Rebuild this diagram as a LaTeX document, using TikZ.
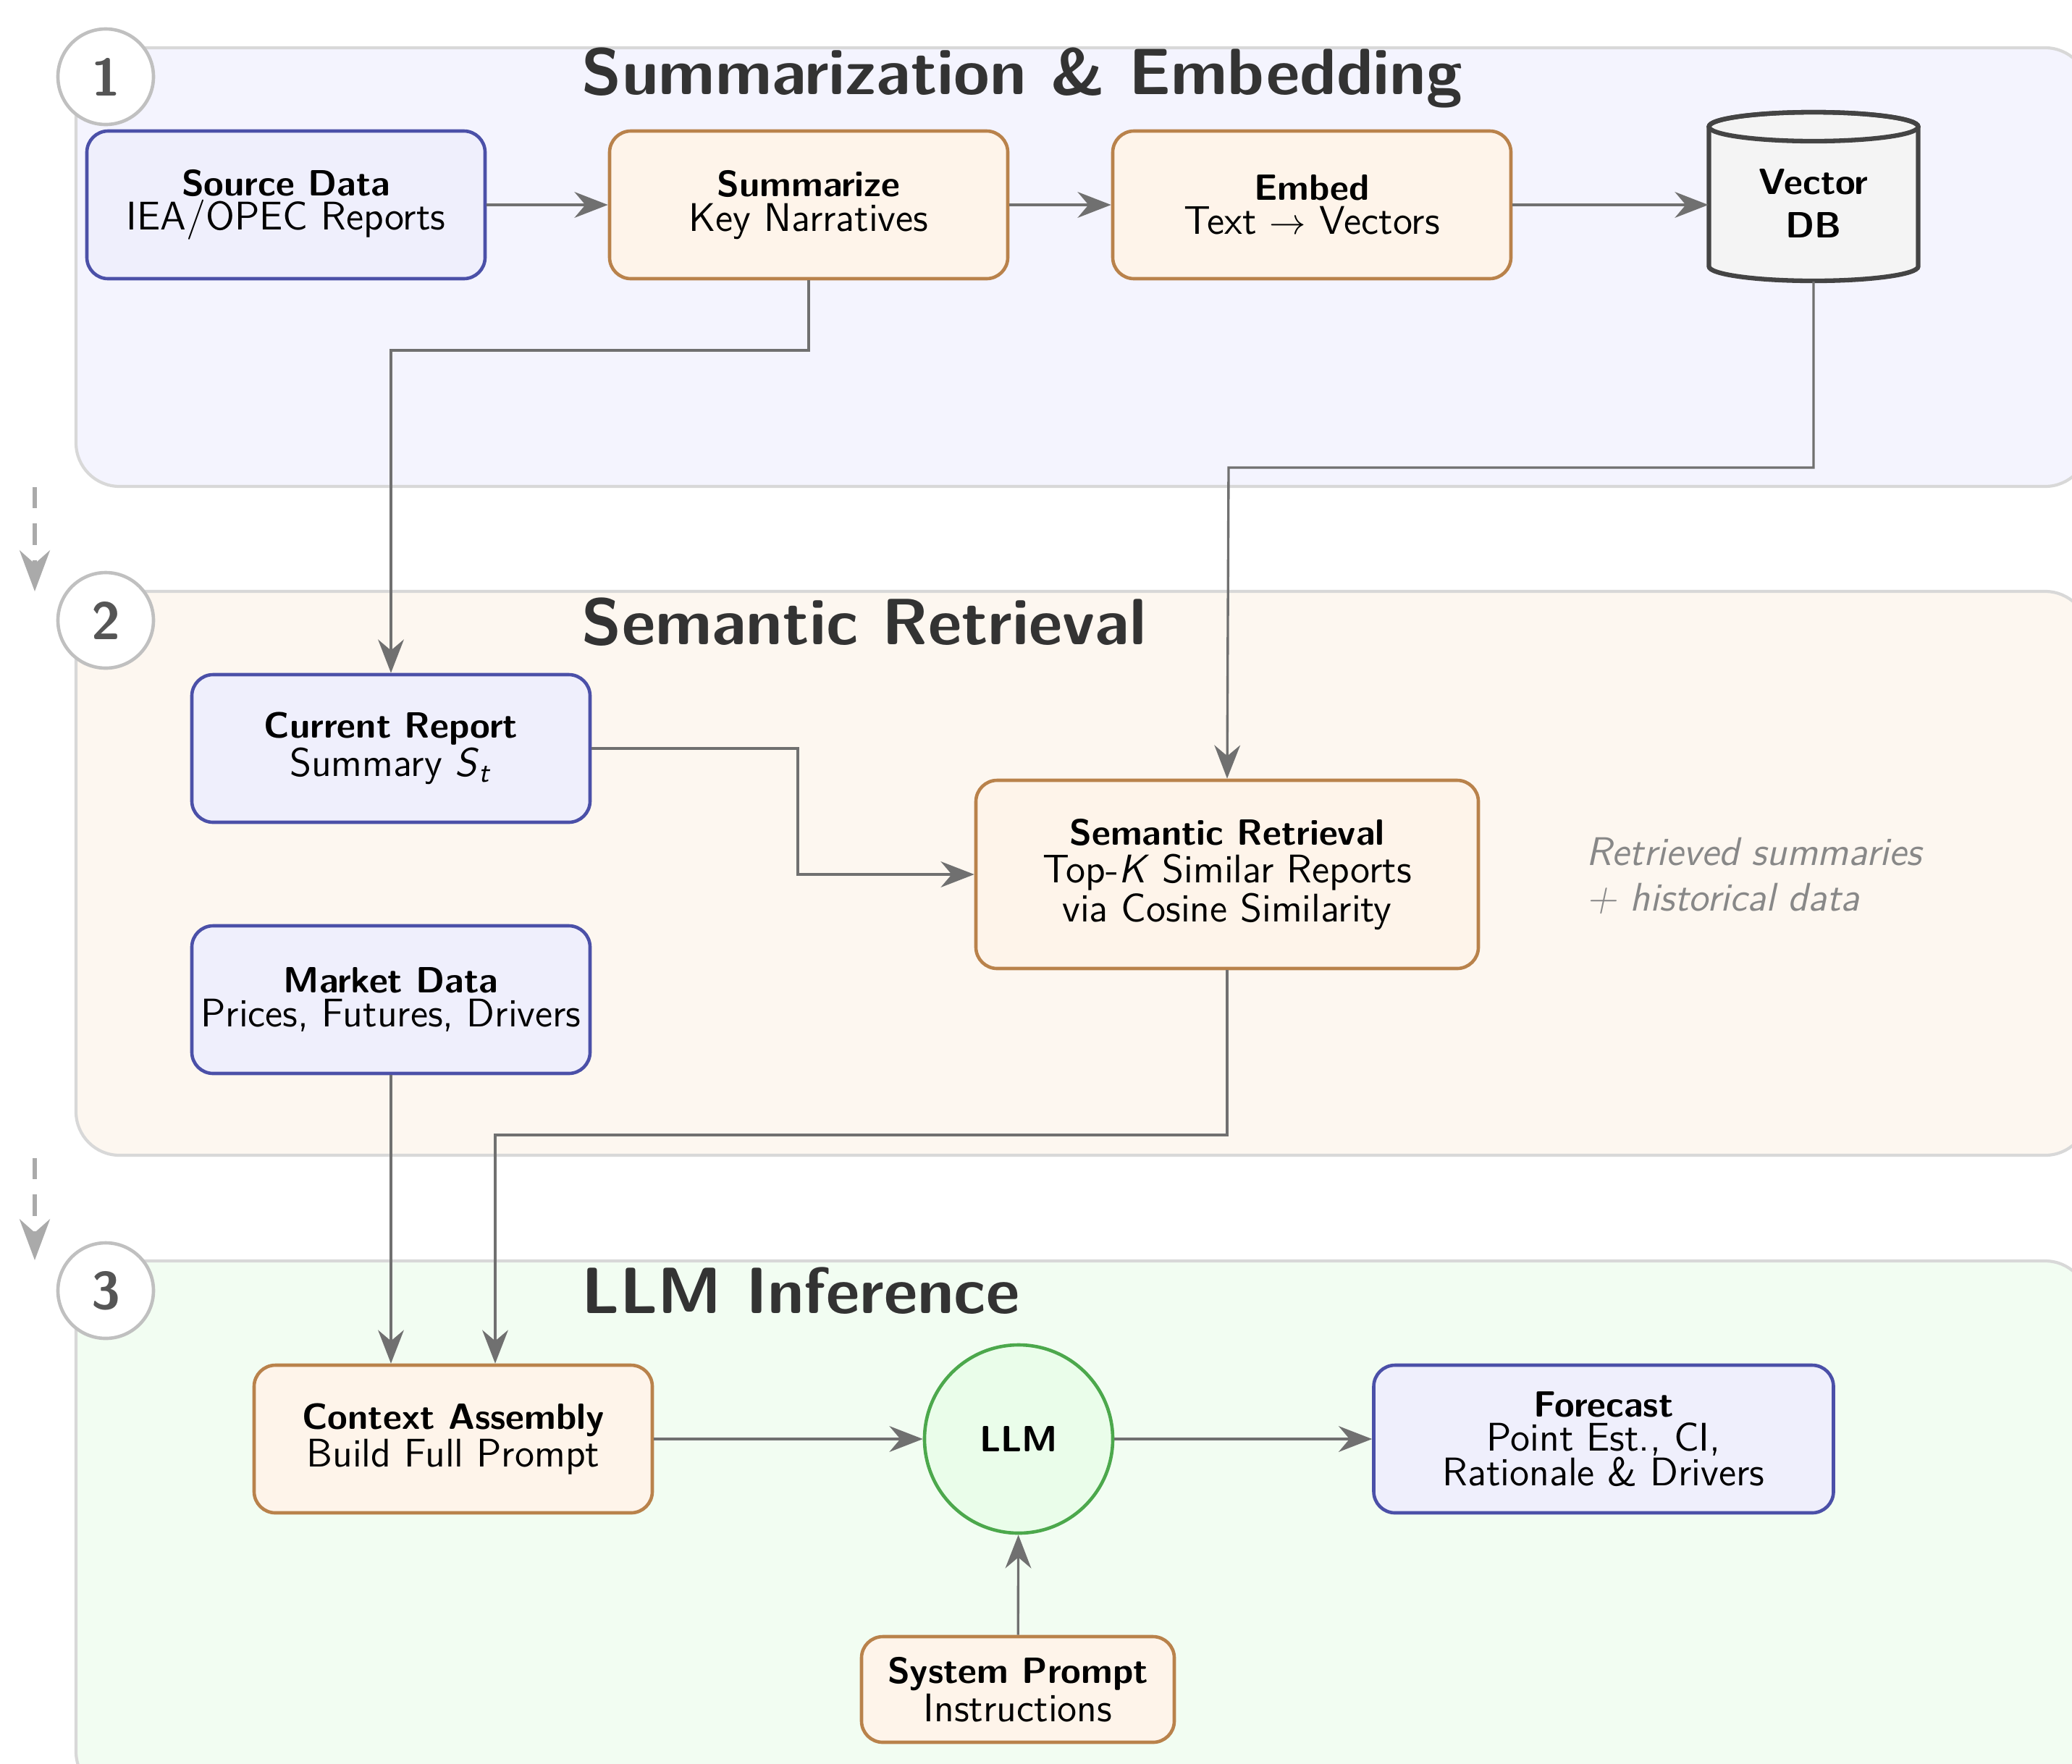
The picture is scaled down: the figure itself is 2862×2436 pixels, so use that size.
\documentclass[tikz,border=0pt]{standalone}
\usetikzlibrary{arrows.meta,calc}
\definecolor{bluedraw}{RGB}{75,80,168}
\definecolor{bluefill}{RGB}{239,239,252}
\definecolor{orgdraw}{RGB}{185,130,75}
\definecolor{orgfill}{RGB}{254,244,234}
\definecolor{sonefill}{RGB}{244,244,254}
\definecolor{stwofill}{RGB}{253,247,240}
\definecolor{sthreefill}{RGB}{242,253,242}
\definecolor{stageline}{RGB}{216,216,216}
\definecolor{llmfill}{RGB}{234,253,234}
\definecolor{llmdraw}{RGB}{76,168,76}
\definecolor{dbfill}{RGB}{244,244,244}
\definecolor{dbdraw}{RGB}{68,68,68}
\definecolor{arrcol}{RGB}{112,112,112}
\definecolor{dashcol}{RGB}{170,170,170}
\definecolor{notecol}{RGB}{136,136,136}
\definecolor{titlecol}{RGB}{51,51,51}
\definecolor{numcol}{RGB}{85,85,85}
\definecolor{circdraw}{RGB}{192,192,192}
\def\pu{0.238pt}
\newcommand\nodefont{\sffamily\fontsize{13.14}{11.3}\selectfont}
\newcommand\hd[1]{{\fontsize{12}{11.3}\selectfont\bfseries #1}}
\tikzset{
  box/.style={rounded corners=7pt, line width=1.1pt, align=center, inner sep=2pt,
    minimum width=550*\pu, minimum height=204*\pu, font=\nodefont},
  bluebox/.style={box, draw=bluedraw, fill=bluefill},
  orangebox/.style={box, draw=orgdraw, fill=orgfill},
  stagebox/.style={draw=stageline, line width=1pt, rounded corners=14.3pt},
  stagetitle/.style={anchor=base west, inner sep=0pt, text=titlecol,
    font=\sffamily\bfseries\fontsize{21.5}{26}\selectfont},
  stagenum/.style={circle, draw=circdraw, fill=white, line width=1.1pt,
    minimum size=132*\pu, inner sep=0pt, text=numcol, font=\sffamily\bfseries\fontsize{17.3}{20}\selectfont},
  arr/.style={draw=arrcol, line width=0.8pt, -{Stealth[length=11pt,width=8.5pt]}},
  dasharr/.style={draw=dashcol, line width=1.4pt, dash pattern=on 7pt off 5pt,
    -{Stealth[length=13.5pt,width=10pt]}},
}
\begin{document}
\begin{tikzpicture}[x=0.238pt, y=-0.238pt]
\useasboundingbox (0,0) rectangle (2862,2436);
\clip (0,0) rectangle (2862,2436);

% stage backgrounds
\path[stagebox, fill=sonefill] (105,66) rectangle (2885,672);
\path[stagebox, fill=stwofill] (105,817) rectangle (2885,1596);
\path[stagebox, fill=sthreefill] (105,1742) rectangle (2885,2480);

% stage numbers and titles
\node[stagenum] (n1) at (146,106) {1};
\node[stagenum] (n2) at (146,857) {2};
\node[stagenum] (n3) at (146,1783) {3};
\node[stagetitle] (t1) at (803,130) {Summarization \& Embedding};
\node[stagetitle] (t2) at (803,890) {Semantic Retrieval};
\node[stagetitle] (t3) at (803,1814) {LLM Inference};

% dashed stage arrows
\coordinate (da1) at (48,673);
\coordinate (db1) at (48,817);
\coordinate (da2) at (48,1600);
\coordinate (db2) at (48,1741);
\draw[dasharr] (da1) -- (db1);
\draw[dasharr] (da2) -- (db2);

% vector DB cylinder
\filldraw[fill=dbfill, draw=dbdraw, line width=1.5pt]
  (2360.5,175) -- (2360.5,368)
  arc[start angle=180, end angle=360, x radius=144.5*\pu, y radius=20*\pu]
  -- (2649.5,175)
  arc[start angle=0, end angle=180, x radius=144.5*\pu, y radius=20*\pu] -- cycle;
\draw[draw=dbdraw, line width=1.5pt] (2505,175) ellipse[x radius=144.5*\pu, y radius=20*\pu];

% nodes
\node[bluebox] (src) at (395,283) {\hd{Source Data}\\IEA/OPEC Reports};
\node[orangebox] (summ) at (1117,283) {\hd{Summarize}\\Key Narratives};
\node[orangebox] (embed) at (1812,283) {\hd{Embed}\\Text $\rightarrow$ Vectors};
\node[align=center, inner sep=0pt, minimum width=289*\pu, minimum height=214*\pu,
  font=\sffamily\bfseries\fontsize{12}{14.5}\selectfont]
  (vdb) at (2505,281) {Vector\\DB};

\node[bluebox] (cur) at (540,1034) {\hd{Current Report}\\Summary \textit{S}\textsubscript{\textit{t}}};
\node[orangebox, minimum width=694*\pu, minimum height=260*\pu] (sem) at (1695,1208)
  {\hd{Semantic Retrieval}\\[1pt]Top-\textit{K} Similar Reports\\via Cosine Similarity};
\node[bluebox] (mkt) at (540,1381) {\hd{Market Data}\\Prices, Futures, Drivers};
\node[anchor=west, inner sep=0pt, align=left, text=notecol,
  font=\sffamily\itshape\fontsize{13.14}{14.8}\selectfont] (note) at (2191,1210)
  {Retrieved summaries\\+ historical data};

\node[orangebox] (ctx) at (626,1988) {\hd{Context Assembly}\\Build Full Prompt};
\node[circle, draw=llmdraw, fill=llmfill, line width=1.1pt, minimum size=260*\pu,
  inner sep=0pt, font=\sffamily\bfseries\fontsize{12}{11}\selectfont] (llm) at (1407,1988) {LLM};
\node[bluebox, minimum width=635*\pu] (fc) at (2215,1988)
  {\hd{Forecast}\\Point Est., CI,\\Rationale \& Drivers};
\node[orangebox, minimum width=432*\pu, minimum height=146*\pu] (sys) at (1406,2334)
  {\hd{System Prompt}\\Instructions};

% junctions
\coordinate (j1) at (540,484);
\coordinate (j2) at (1697,646);
\coordinate (j3) at (1102,1034);
\coordinate (j4) at (684,1568);

% connectors
\draw[arr] (src) -- (summ);
\draw[arr] (summ) -- (embed);
\draw[arr] (embed.east) -- (embed.east -| vdb.west);
\draw[arr] (summ.south) |- (j1) -- (cur.north);
\draw[arr] (vdb.south) |- (j2) -- (sem.north);
\draw[arr] (cur.east) -- (j3) |- (sem.west);
\draw[arr] (mkt.south) -- (mkt.south |- ctx.north);
\draw[arr] (sem.south) |- (j4) -- (j4 |- ctx.north);
\draw[arr] (ctx) -- (llm);
\draw[arr] (llm) -- (fc);
\draw[arr] (sys) -- (llm);
\end{tikzpicture}
\end{document}
